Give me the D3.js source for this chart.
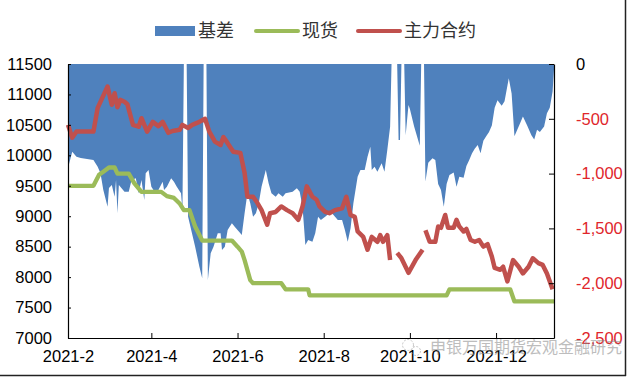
<!DOCTYPE html>
<html>
<head>
<meta charset="utf-8">
<script src="https://cdn.jsdelivr.net/npm/d3@7"></script>
<style>
  body { margin: 0; background: #fff; }
  svg { display: block; }
</style>
</head>
<body>
<div id="chart"></div>
<script>
// basis (spot - main contract), right axis
const basis = [
  ["2021-02-01", -950], ["2021-02-04", -800], ["2021-02-07", -846], ["2021-02-10", -858],
  ["2021-02-19", -876], ["2021-02-22", -937], ["2021-02-24", -997], ["2021-02-26", -1150],
  ["2021-03-01", -1302], ["2021-03-02", -1131], ["2021-03-04", -1104], ["2021-03-06", -1211],
  ["2021-03-07", -1058], ["2021-03-08", -1362], ["2021-03-09", -1104], ["2021-03-13", -1165],
  ["2021-03-16", -1165], ["2021-03-18", -1058], ["2021-03-21", -1043], ["2021-03-23", -1180],
  ["2021-03-25", -1058], ["2021-03-27", -1241], ["2021-03-28", -997], ["2021-03-30", -967],
  ["2021-04-01", -1120], ["2021-04-04", -1180], ["2021-04-06", -1150], ["2021-04-09", -1074],
  ["2021-04-10", -1150], ["2021-04-12", -1120], ["2021-04-15", -1043], ["2021-04-17", -1074],
  ["2021-04-19", -1120], ["2021-04-22", -1180], ["2021-04-23", -1330], ["2021-04-24", 0],
  ["2021-04-26", 0], ["2021-04-27", -1393], ["2021-05-02", -1667], ["2021-05-05", -1850],
  ["2021-05-07", -1955], ["2021-05-08", 0], ["2021-05-10", 0], ["2021-05-11", -1971],
  ["2021-05-13", -1727], ["2021-05-15", -1667], ["2021-05-18", -1545], ["2021-05-20", -1545],
  ["2021-05-21", -1697], ["2021-05-23", -1667], ["2021-05-25", -1515], ["2021-05-28", -1453],
  ["2021-05-30", -1484], ["2021-06-03", -1545], ["2021-06-04", -1560], ["2021-06-06", -1362],
  ["2021-06-08", -1180], ["2021-06-10", -1271], ["2021-06-12", -1393], ["2021-06-14", -1362],
  ["2021-06-16", -1271], ["2021-06-18", -1120], ["2021-06-21", -967], ["2021-06-23", -1088],
  ["2021-06-25", -1180], ["2021-06-28", -1211], ["2021-06-30", -1180], ["2021-07-03", -1211],
  ["2021-07-05", -1180], ["2021-07-10", -1165], ["2021-07-13", -1134], ["2021-07-15", -1165],
  ["2021-07-17", -1302], ["2021-07-19", -1651], ["2021-07-21", -1606], ["2021-07-24", -1621],
  ["2021-07-26", -1545], ["2021-07-28", -1393], ["2021-07-30", -1423], ["2021-08-02", -1393],
  ["2021-08-05", -1362], ["2021-08-06", -1347], ["2021-08-09", -1393], ["2021-08-11", -1423],
  ["2021-08-14", -1423], ["2021-08-16", -1515], ["2021-08-18", -1621], ["2021-08-20", -1499],
  ["2021-08-22", -1271], ["2021-08-25", -1028], ["2021-08-27", -967], ["2021-08-30", -967],
  ["2021-09-01", -846], ["2021-09-03", -755], ["2021-09-04", -967], ["2021-09-06", -937],
  ["2021-09-08", -982], ["2021-09-11", -906], ["2021-09-13", -982], ["2021-09-15", -785],
  ["2021-09-17", -572], ["2021-09-18", 0], ["2021-09-22", 0], ["2021-09-23", -693],
  ["2021-09-24", -693], ["2021-09-25", 0], ["2021-09-27", 0], ["2021-09-28", -650],
  ["2021-09-30", -374], ["2021-10-01", -410], ["2021-10-04", -570], ["2021-10-08", -746],
  ["2021-10-09", 0], ["2021-10-11", 0], ["2021-10-12", -1073], ["2021-10-14", -900],
  ["2021-10-17", -860], ["2021-10-19", -876], ["2021-10-21", -1095], ["2021-10-23", -1150],
  ["2021-10-25", -1302], ["2021-10-27", -1095], ["2021-10-29", -1013], ["2021-11-01", -990],
  ["2021-11-03", -1120], ["2021-11-05", -1028], ["2021-11-08", -1037], ["2021-11-10", -930],
  ["2021-11-12", -876], ["2021-11-14", -815], ["2021-11-16", -770], ["2021-11-18", -740],
  ["2021-11-20", -815], ["2021-11-22", -700], ["2021-11-24", -660], ["2021-11-26", -620],
  ["2021-11-28", -560], ["2021-11-30", -400], ["2021-12-02", -330], ["2021-12-05", -380],
  ["2021-12-07", -340], ["2021-12-10", -130], ["2021-12-12", -270], ["2021-12-14", -660],
  ["2021-12-16", -600], ["2021-12-18", -540], ["2021-12-20", -480], ["2021-12-23", -560],
  ["2021-12-26", -650], ["2021-12-28", -690], ["2021-12-30", -600], ["2022-01-01", -620],
  ["2022-01-04", -570], ["2022-01-06", -450], ["2022-01-08", -400], ["2022-01-10", -250],
  ["2022-01-11", -50]
];

// spot price, left axis
const spot = [
  ["2021-02-01", 9500], ["2021-02-19", 9500], ["2021-02-23", 9680], ["2021-02-26", 9730],
  ["2021-03-02", 9800], ["2021-03-06", 9800], ["2021-03-08", 9700], ["2021-03-16", 9700],
  ["2021-03-20", 9540], ["2021-03-25", 9400], ["2021-04-08", 9400], ["2021-04-12", 9330],
  ["2021-04-17", 9300], ["2021-04-21", 9210], ["2021-04-24", 9100], ["2021-04-28", 9100],
  ["2021-05-02", 8830], ["2021-05-07", 8600], ["2021-05-28", 8600], ["2021-06-01", 8500],
  ["2021-06-04", 8420], ["2021-06-06", 8280], ["2021-06-10", 7950], ["2021-06-12", 7900],
  ["2021-07-02", 7900], ["2021-07-05", 7800], ["2021-07-21", 7800], ["2021-07-22", 7700],
  ["2021-10-27", 7700], ["2021-10-29", 7800], ["2021-12-11", 7800], ["2021-12-14", 7600],
  ["2022-01-11", 7600]
];

// main contract price, left axis (null = no quote)
const futures = [
  ["2021-02-01", 10500], ["2021-02-04", 10290], ["2021-02-07", 10390], ["2021-02-19", 10390],
  ["2021-02-22", 10780], ["2021-03-01", 11130], ["2021-03-04", 10830], ["2021-03-06", 11020],
  ["2021-03-08", 10790], ["2021-03-10", 10910], ["2021-03-13", 10880], ["2021-03-15", 10840],
  ["2021-03-19", 10500], ["2021-03-23", 10470], ["2021-03-25", 10610], ["2021-03-29", 10390],
  ["2021-04-02", 10550], ["2021-04-06", 10480], ["2021-04-09", 10550], ["2021-04-13", 10370],
  ["2021-04-16", 10400], ["2021-04-21", 10420], ["2021-04-23", 10500], ["2021-04-27", 10450],
  ["2021-04-30", 10500], ["2021-05-05", 10550], ["2021-05-09", 10600], ["2021-05-12", 10390],
  ["2021-05-16", 10225], ["2021-05-20", 10170], ["2021-05-22", 10300], ["2021-05-25", 10200],
  ["2021-05-29", 10060], ["2021-06-03", 10040], ["2021-06-06", 9710], ["2021-06-08", 9320],
  ["2021-06-12", 9320], ["2021-06-15", 9220], ["2021-06-18", 9100], ["2021-06-22", 8860],
  ["2021-06-24", 9050], ["2021-06-28", 9070], ["2021-07-02", 9160], ["2021-07-06", 9100],
  ["2021-07-10", 9050], ["2021-07-14", 8940], ["2021-07-17", 9160], ["2021-07-20", 9490],
  ["2021-07-24", 9320], ["2021-07-27", 9270], ["2021-07-29", 9160], ["2021-08-02", 9070],
  ["2021-08-05", 9050], ["2021-08-09", 9100], ["2021-08-14", 9130], ["2021-08-17", 9320],
  ["2021-08-20", 9020], ["2021-08-23", 8990], ["2021-08-25", 8750], ["2021-08-29", 8660],
  ["2021-09-01", 8450], ["2021-09-04", 8660], ["2021-09-08", 8580], ["2021-09-10", 8690],
  ["2021-09-12", 8580], ["2021-09-15", 8690], ["2021-09-17", 8280], ["2021-09-19", null],
  ["2021-09-22", 8400], ["2021-09-25", 8310], ["2021-09-30", 8070], ["2021-10-05", 8280],
  ["2021-10-10", 8450], ["2021-10-11", null], ["2021-10-12", 8770], ["2021-10-15", 8580],
  ["2021-10-19", 8580], ["2021-10-21", 8830], ["2021-10-23", 8810], ["2021-10-26", 9020],
  ["2021-10-28", 8810], ["2021-11-01", 8810], ["2021-11-03", 8940], ["2021-11-05", 8830],
  ["2021-11-08", 8750], ["2021-11-10", 8790], ["2021-11-13", 8610], ["2021-11-16", 8580],
  ["2021-11-19", 8610], ["2021-11-22", 8500], ["2021-11-25", 8540], ["2021-11-28", 8340],
  ["2021-11-30", 8150], ["2021-12-04", 8120], ["2021-12-06", 8170], ["2021-12-09", 7930],
  ["2021-12-13", 8280], ["2021-12-17", 8170], ["2021-12-20", 8060], ["2021-12-24", 8170],
  ["2021-12-27", 8310], ["2021-12-31", 8230], ["2022-01-03", 8200], ["2022-01-06", 8060],
  ["2022-01-10", 7800]
];

const leftTicks = [7000, 7500, 8000, 8500, 9000, 9500, 10000, 10500, 11000, 11500];
const rightTicks = [0, -500, -1000, -1500, -2000, -2500];
const xTicks = ["2021-02-01", "2021-04-01", "2021-06-01", "2021-08-01", "2021-10-01", "2021-12-01"];
const xDomain = ["2021-02-01", "2022-01-11"];
const seriesNames = ["基差", "现货", "主力合约"];
const watermark = "申银万国期货宏观金融研究";

const width = 628, height = 377;
const m = { left: 68, right: 554, top: 64, bottom: 338 };
const colors = { basis: "#4F81BD", spot: "#9BBB59", fut: "#C0504D" };

const parse = d3.timeParse("%Y-%m-%d");
const toPts = arr => arr.map(d => ({ date: parse(d[0]), v: d[1] }));

const svg = d3.select("#chart").append("svg")
  .attr("width", width).attr("height", height)
  .style("font-family", "'Liberation Sans', Arial, sans-serif");

const x = d3.scaleTime().domain(xDomain.map(parse)).range([m.left, m.right]);
const yL = d3.scaleLinear().domain([7000, 11500]).range([m.bottom, m.top]);
const yR = d3.scaleLinear().domain([-2500, 0]).range([m.bottom, m.top]);

svg.append("clipPath").attr("id", "plot")
  .append("rect").attr("x", m.left).attr("y", m.top)
  .attr("width", m.right - m.left).attr("height", m.bottom - m.top);

// basis area hangs from 0 at the top
const area = d3.area()
  .x(d => x(d.date))
  .y0(yR(0))
  .y1(d => yR(d.v));

svg.append("path")
  .datum(toPts(basis))
  .attr("clip-path", "url(#plot)")
  .attr("fill", colors.basis)
  .attr("d", area);

const line = d3.line()
  .defined(d => d.v != null)
  .x(d => x(d.date))
  .y(d => yL(d.v));

svg.append("path")
  .datum(toPts(spot))
  .attr("fill", "none")
  .attr("stroke", colors.spot)
  .attr("stroke-width", 4.3)
  .attr("stroke-linejoin", "round")
  .attr("d", line);

svg.append("path")
  .datum(toPts(futures))
  .attr("fill", "none")
  .attr("stroke", colors.fut)
  .attr("stroke-width", 4.5)
  .attr("stroke-linejoin", "round")
  .attr("d", line);

// axes, ticks point inward
const fmt = d3.formatLocale({ decimal: ".", thousands: ",", grouping: [3], currency: ["", ""], minus: "-" }).format(",");

const gL = svg.append("g").attr("transform", `translate(${m.left},0)`)
  .call(d3.axisLeft(yL).tickValues(leftTicks).tickSizeInner(-3).tickSizeOuter(0).tickPadding(16).tickFormat(d => d));
const gR = svg.append("g").attr("transform", `translate(${m.right},0)`)
  .call(d3.axisRight(yR).tickValues(rightTicks).tickSizeInner(-5).tickSizeOuter(0).tickPadding(22).tickFormat(fmt));
const gX = svg.append("g").attr("transform", `translate(0,${m.bottom})`)
  .call(d3.axisBottom(x).tickValues(xTicks.map(parse)).tickSizeInner(-5).tickSizeOuter(0).tickPadding(12)
    .tickFormat(d3.timeFormat("%Y-%-m")));

[gL, gR, gX].forEach(g => {
  g.select(".domain").attr("stroke", "#000").attr("stroke-width", 1.2);
  g.selectAll(".tick line").attr("stroke", "#000");
  g.selectAll("text").attr("font-size", 16.5).attr("fill", "#000")
    .attr("font-family", "'Liberation Sans', Arial, sans-serif");
});
gR.selectAll("text").attr("fill", d => d < 0 ? "#E0262B" : "#000");

// legend
const legY = 31;
const legend = svg.append("g")
  .style("font-family", "'Noto Sans CJK SC', sans-serif")
  .style("font-size", "18px");
legend.append("rect").attr("x", 155).attr("y", legY - 5).attr("width", 40).attr("height", 10).attr("fill", colors.basis);
legend.append("line").attr("x1", 256).attr("x2", 298).attr("y1", legY).attr("y2", legY)
  .attr("stroke", colors.spot).attr("stroke-width", 4).attr("stroke-linecap", "round");
legend.append("line").attr("x1", 358).attr("x2", 400).attr("y1", legY).attr("y2", legY)
  .attr("stroke", colors.fut).attr("stroke-width", 4).attr("stroke-linecap", "round");
[[198, seriesNames[0]], [302, seriesNames[1]], [404, seriesNames[2]]].forEach(([lx, t]) => {
  legend.append("text").attr("x", lx).attr("y", legY).attr("dy", "0.35em").attr("fill", "#333").text(t);
});

// watermark
const wm = svg.append("g").attr("opacity", 0.55);
wm.append("circle").attr("cx", 408).attr("cy", 345).attr("r", 5.5)
  .attr("fill", "none").attr("stroke", "#999").attr("stroke-width", 1).attr("stroke-dasharray", "2,1.5");
wm.append("circle").attr("cx", 416).attr("cy", 351).attr("r", 4.5)
  .attr("fill", "none").attr("stroke", "#999").attr("stroke-width", 1).attr("stroke-dasharray", "2,1.5");
wm.append("text").attr("x", 430).attr("y", 347).attr("dy", "0.35em")
  .style("font-family", "'Noto Sans CJK SC', sans-serif").style("font-size", "16px")
  .attr("fill", "#888").text(watermark);

// outer frame edges
svg.append("line").attr("x1", 0).attr("x2", 626).attr("y1", 375.5).attr("y2", 375.5).attr("stroke", "#222").attr("stroke-width", 1.5);
svg.append("line").attr("x1", 625.5).attr("x2", 625.5).attr("y1", 0).attr("y2", 376).attr("stroke", "#222").attr("stroke-width", 1.5);
</script>
</body>
</html>
